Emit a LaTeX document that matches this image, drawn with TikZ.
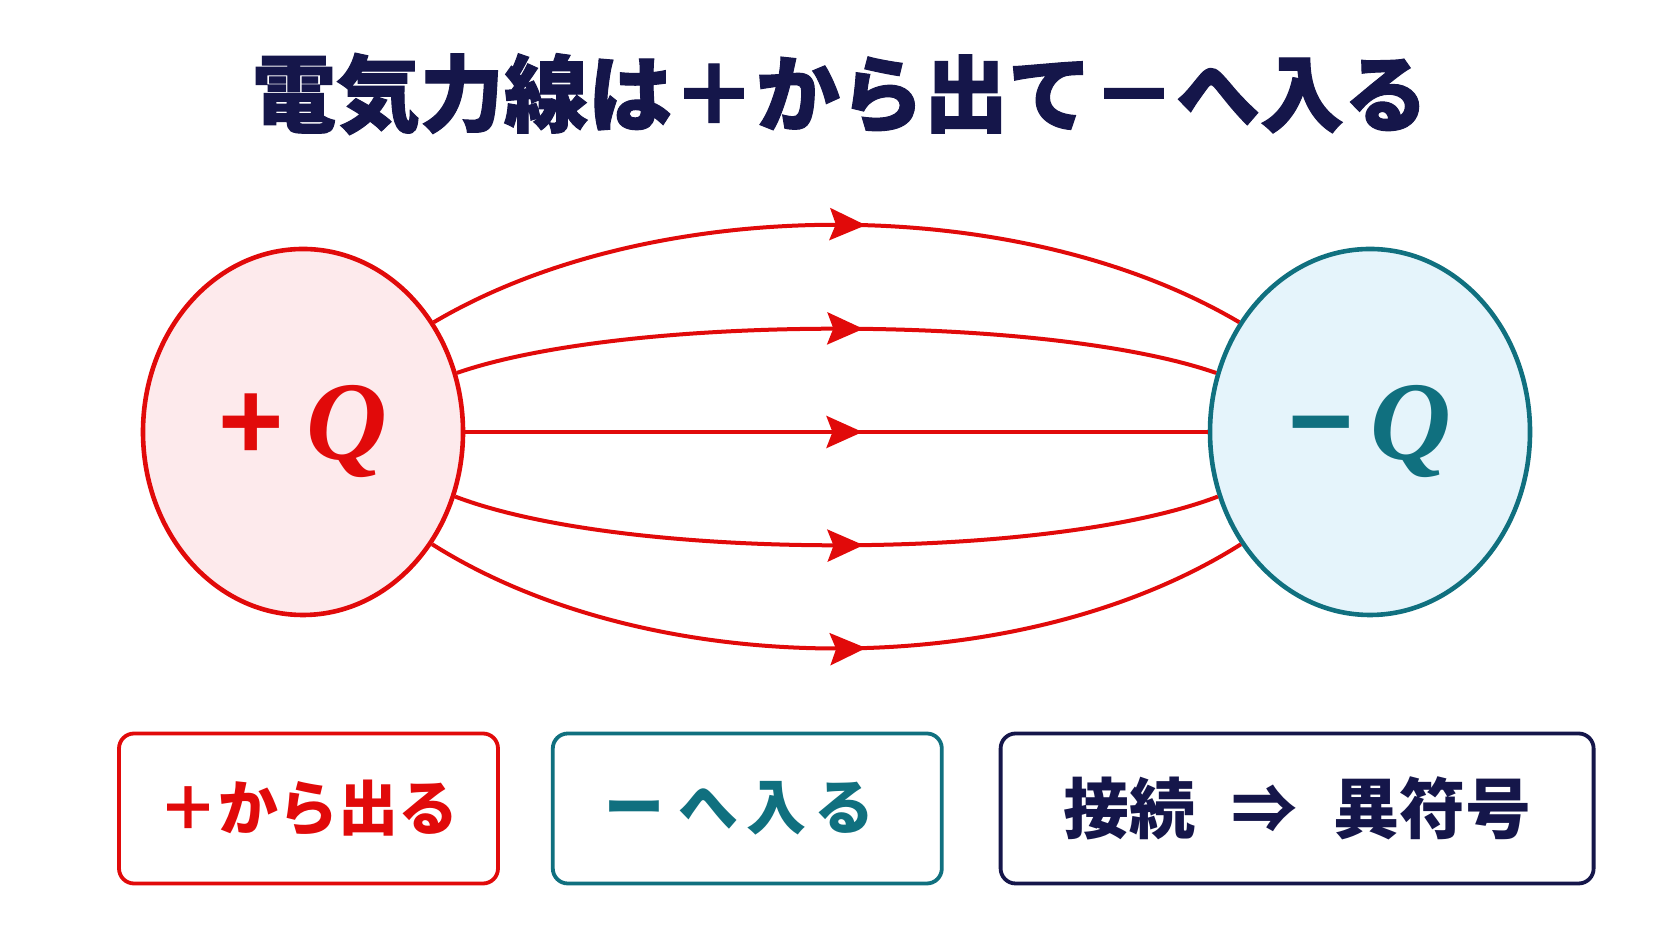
\documentclass[tikz,border=0pt]{standalone}
\usepackage{fontspec}
\setmainfont{Liberation Serif}
\newfontfamily\jpfont{Noto Sans CJK JP}
\newfontfamily\jptitle[BoldFeatures={FakeBold=1.2}]{Noto Sans CJK JP}
\newfontfamily\signfont{Liberation Sans}
\usetikzlibrary{positioning,shapes.geometric,arrows.meta,decorations.markings}
\definecolor{fieldred}{HTML}{E10A0A}
\definecolor{chargeteal}{HTML}{10707F}
\definecolor{titlenavy}{HTML}{15164A}
\definecolor{pinkfill}{HTML}{FDEAEC}
\definecolor{bluefill}{HTML}{E5F4FB}
\tikzset{chg/.style={draw,ellipse,line width=4.6pt,minimum width=320pt,minimum height=366pt,inner sep=0pt,font=\bfseries\fontsize{112}{112}\selectfont}  }
\tikzset{fline/.style={draw=fieldred,line width=4pt,postaction={decorate},decoration={markings,mark=at position 0.535 with {\arrow{Stealth[length=36pt,width=32pt,inset=6pt]}}}}  }
\tikzset{tagbox/.style={draw,fill=white,rounded corners=15pt,line width=3.8pt,minimum height=150pt,inner sep=0pt,font=\jpfont\bfseries\fontsize{60}{62}\selectfont}  }

\begin{document}
\begin{tikzpicture}[x=1pt,y=1pt]
	\useasboundingbox[fill=white] (0,0) rectangle (1672,941);
	\node[font=\jptitle\bfseries\fontsize{84}{90}\selectfont,text=titlenavy] (title) at (840,847) {電気力線は＋から出て－へ入る};

	\node[chg,draw=fieldred,fill=pinkfill,text=fieldred] (plus) at (303,509) {{\signfont +}\kern0.2em\textit{Q}};
	\node[chg,draw=chargeteal,fill=bluefill,text=chargeteal] (minus) at (1370,509) {{\signfont −}\kern0.15em\textit{Q}};

	% field lines
	\draw[fline] (plus.40) .. controls +(220,130) and +(-220,130) .. (minus.140);
	\draw[fline] (plus.21) .. controls +(170,59) and +(-170,59) .. (minus.159);
	\draw[fline] (plus.0) -- (minus.180);
	\draw[fline] (plus.-23) .. controls +(170,-65) and +(-170,-65) .. (minus.203);
	\draw[fline] (plus.-41) .. controls +(220,-139) and +(-220,-139) .. (minus.221);

	\node[tagbox,draw=fieldred,text=fieldred,minimum width=379pt] (out) at (308.5,132.5) {＋から出る};
	\node[tagbox,draw=chargeteal,text=chargeteal,minimum width=389pt,right=51pt of out] (in) {ー\kern14pt へ\kern8pt 入\kern8pt る\kern16pt};
	\node[tagbox,draw=titlenavy,text=titlenavy,minimum width=593pt,right=55pt of in,font=\jpfont\bfseries\fontsize{66}{68}\selectfont] (rule) {接続\hspace{36pt}⇒\hspace{36pt}異符号};
\end{tikzpicture}
\end{document}
